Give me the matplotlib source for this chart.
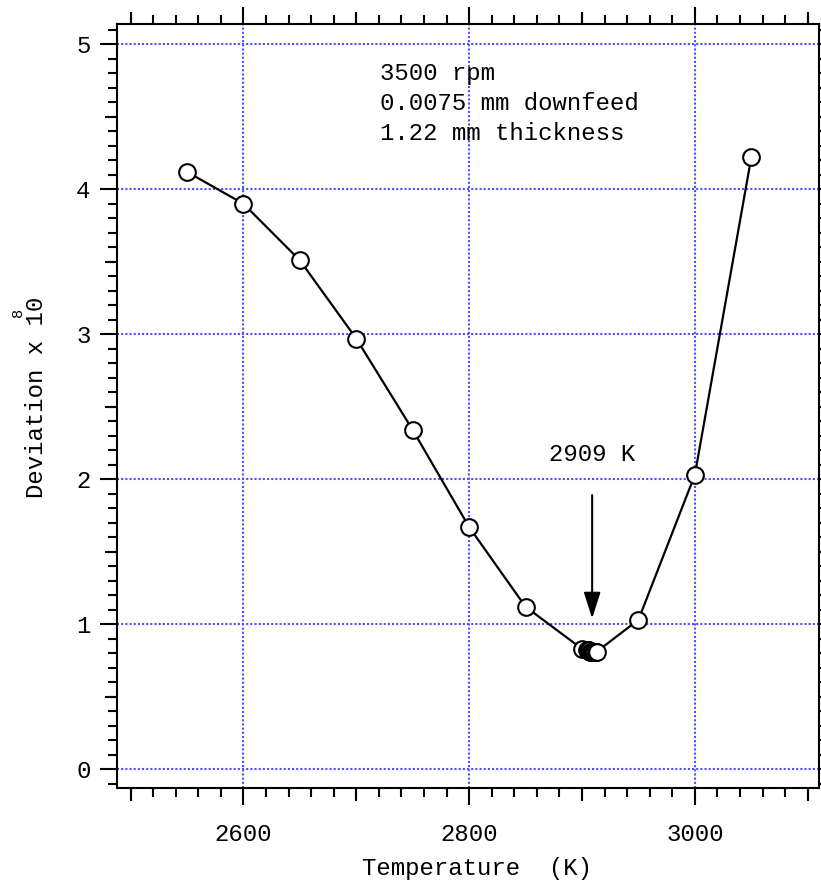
import numpy as np
import matplotlib
matplotlib.use("Agg")
import matplotlib.pyplot as plt
from matplotlib.ticker import MultipleLocator, FixedLocator, NullFormatter

# Deviation vs. grinding temperature
temperature = [2550, 2600, 2650, 2700, 2750, 2800, 2850, 2900,
               2904, 2905, 2906, 2907, 2908, 2909, 2910, 2911, 2912, 2913,
               2950, 3000, 3050]
deviation = [4.12, 3.90, 3.51, 2.97, 2.34, 1.67, 1.12, 0.83,
             0.82, 0.82, 0.82, 0.81, 0.81, 0.81, 0.81, 0.81, 0.81, 0.81,
             1.03, 2.03, 4.22]

x_major = [2600, 2800, 3000]
x_mid = [2500, 2700, 2900, 3100]
y_major = [0, 1, 2, 3, 4, 5]
y_mid = [0.5, 1.5, 2.5, 3.5, 4.5]

optimum_T = 2909
arrow_top, arrow_tip = 1.89, 1.04

conditions = ["3500 rpm", "0.0075 mm downfeed", "1.22 mm thickness"]

mono = "Liberation Mono"
fs = 17.3

fig = plt.figure(figsize=(8.21, 8.84), dpi=100)
ax = fig.add_axes([117/821, 96/884, (819-117)/821, (788-24)/884])

ax.plot(temperature, deviation, color="black", lw=1.6, marker="o",
        markersize=12, markerfacecolor="white", markeredgecolor="black",
        markeredgewidth=1.5, zorder=3)

ax.set_xlim(2488, 3110)
ax.set_ylim(-0.13, 5.14)

# grid at major ticks
ax.xaxis.set_major_locator(FixedLocator(x_major))
ax.yaxis.set_major_locator(FixedLocator(y_major))
ax.xaxis.set_minor_locator(MultipleLocator(20))
ax.yaxis.set_minor_locator(MultipleLocator(0.1))
ax.grid(True, which="major", color="#4f4fff", linestyle=(0, (1, 1)), lw=1.5)

for s in ax.spines.values():
    s.set_linewidth(1.5)

ax.tick_params(which="both", direction="out", top=True, right=True,
               width=1.5, colors="black")
ax.tick_params(which="major", length=12)
ax.tick_params(which="minor", length=6.5)
ax.tick_params(axis="x", which="major", pad=13, labelsize=fs)
ax.tick_params(axis="y", which="major", pad=7, labelsize=fs)
for lab in ax.get_xticklabels() + ax.get_yticklabels():
    lab.set_fontfamily(mono)

# intermediate-length ticks on every side
for loc in ("top", "bottom"):
    sec = ax.secondary_xaxis(loc)
    sec.xaxis.set_major_locator(FixedLocator(x_mid))
    sec.xaxis.set_major_formatter(NullFormatter())
    sec.tick_params(length=9, width=1.5, direction="out")
    sec.spines[loc].set_visible(False)
for loc in ("left", "right"):
    sec = ax.secondary_yaxis(loc)
    sec.yaxis.set_major_locator(FixedLocator(y_mid))
    sec.yaxis.set_major_formatter(NullFormatter())
    sec.tick_params(length=9, width=1.5, direction="out")
    sec.spines[loc].set_visible(False)

# conditions
for i, line in enumerate(conditions):
    ax.text(2721, 4.80 - i * 0.207, line, family=mono, fontsize=fs,
            ha="left", va="center")

# optimum marker
ax.annotate("", xy=(optimum_T, arrow_tip), xytext=(optimum_T, arrow_top),
            arrowprops=dict(arrowstyle="-|>,head_length=1.0,head_width=0.32",
                            mutation_scale=16, lw=1.5, color="black",
                            shrinkA=0, shrinkB=0))
ax.text(optimum_T, 2.17, f"{optimum_T} K", family=mono, fontsize=fs,
        ha="center", va="center")

fig.text(477/821, 1 - 868/884, "Temperature  (K)", family=mono, fontsize=fs,
         ha="center", va="center")
fig.text(37/821, 1 - 397/884, "Deviation x 10", family=mono, fontsize=fs,
         ha="center", va="center", rotation=90)
fig.text(18/821, 1 - 312/884, "8", family=mono, fontsize=11,
         ha="center", va="center", rotation=90)

fig.savefig("out.png", dpi=100)
